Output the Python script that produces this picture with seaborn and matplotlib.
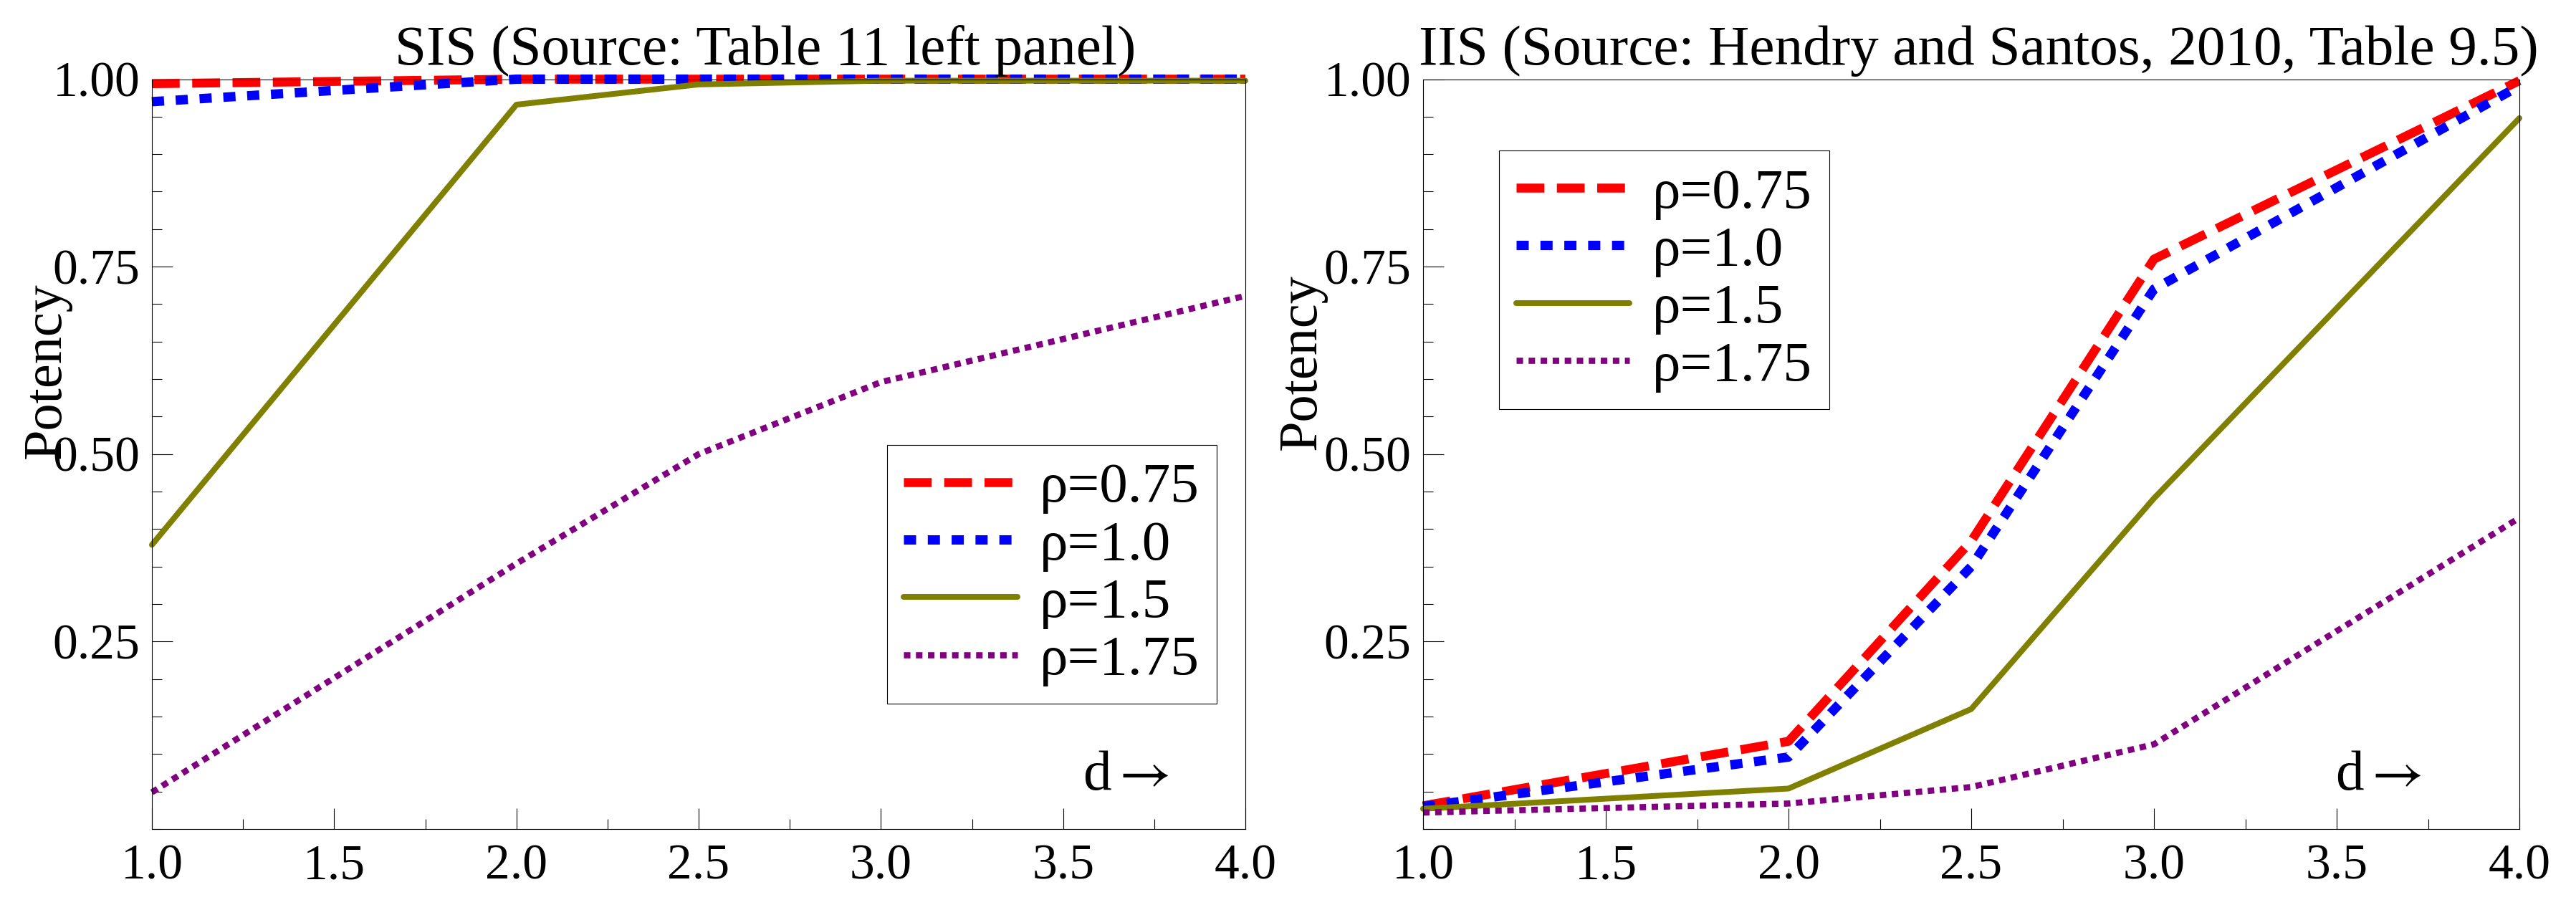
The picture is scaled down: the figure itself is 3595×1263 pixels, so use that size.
import numpy as np
import pandas as pd
import matplotlib
matplotlib.use("Agg")
import matplotlib.pyplot as plt
from matplotlib.ticker import MultipleLocator, FormatStrFormatter
import seaborn as sns

# ---------------- data ----------------
d_values = [1.0, 2.0, 2.5, 3.0, 4.0]

rho_labels = ["ρ=0.75", "ρ=1.0", "ρ=1.5", "ρ=1.75"]

sis_rho075 = [0.994, 1.000, 1.000, 1.000, 1.000]
sis_rho10 = [0.970, 1.000, 1.000, 1.000, 1.000]
sis_rho15 = [0.379, 0.966, 0.993, 0.998, 0.998]
sis_rho175 = [0.049, 0.354, 0.500, 0.596, 0.711]

iis_rho075 = [0.031, 0.117, 0.384, 0.760, 0.998]
iis_rho10 = [0.030, 0.096, 0.350, 0.720, 0.991]
iis_rho15 = [0.027, 0.054, 0.160, 0.441, 0.948]
iis_rho175 = [0.022, 0.034, 0.056, 0.113, 0.415]

titles = ["SIS (Source: Table 11 left panel)",
          "IIS (Source: Hendry and Santos, 2010, Table 9.5)"]
y_label = "Potency"
x_note = "d$\\rightarrow$"

# ---------------- styles ----------------
colors = ["#ff0000", "#0000ff", "#808000", "#800080"]
widths = [9.0, 9.4, 5.8, 6.2]
styles = [(0, (3.1, 1.4)), (0, (1.3, 1.25)), "-", (0, (1.05, 0.9))]

sns.set_theme(style="white")
plt.rcParams["font.family"] = ["Liberation Serif", "DejaVu Serif"]
plt.rcParams["mathtext.fontset"] = "stix"

W, H, DPI = 3595, 1263, 100
fig = plt.figure(figsize=(W / DPI, H / DPI), dpi=DPI)
fig.patch.set_facecolor("white")

ax_l = fig.add_axes([212 / W, 1 - 1157 / H, (1738 - 212) / W, (1157 - 110.5) / H])
ax_r = fig.add_axes([1986 / W, 1 - 1157 / H, (3516 - 1986) / W, (1157 - 110.5) / H])

panels = [
    (ax_l, [sis_rho075, sis_rho10, sis_rho15, sis_rho175]),
    (ax_r, [iis_rho075, iis_rho10, iis_rho15, iis_rho175]),
]

title_x = [0.561, 0.507]
note_x = [0.851, 0.832]
ylab_xy = [(-0.0734, 0.611), (-0.0876, 0.623)]
leg_cfg = [("lower right", (0.9738, 0.1671)), ("upper left", (0.0693, 0.9045))]

for i, (ax, series) in enumerate(panels):
    rows = []
    for lab, vals in zip(rho_labels, series):
        for xv, yv in zip(d_values, vals):
            rows.append({"d": xv, "potency": yv, "rho": lab})
    df = pd.DataFrame(rows)
    for j, lab in enumerate(rho_labels):
        sub = df[df["rho"] == lab]
        sns.lineplot(data=sub, x="d", y="potency", ax=ax, color=colors[j],
                     linewidth=widths[j], linestyle=styles[j], label=lab,
                     clip_on=False, estimator=None, sort=False)

    ax.set_xlim(1.0, 4.0)
    ax.set_ylim(0.0, 1.0)
    ax.xaxis.set_major_locator(MultipleLocator(0.5))
    ax.xaxis.set_minor_locator(MultipleLocator(0.25))
    ax.yaxis.set_major_locator(MultipleLocator(0.25))
    ax.yaxis.set_minor_locator(MultipleLocator(0.05))
    ax.xaxis.set_major_formatter(FormatStrFormatter("%.1f"))
    ax.yaxis.set_major_formatter(FormatStrFormatter("%.2f"))
    # the 0.00 label is not shown in the reference
    ax.set_yticks([0.25, 0.5, 0.75, 1.0])

    ax.tick_params(axis="both", which="both", direction="in", colors="black",
                   top=False, right=False, left=True, bottom=True, width=0.8)
    ax.tick_params(axis="both", which="major", length=21)
    ax.tick_params(axis="both", which="minor", length=10)
    ax.tick_params(axis="x", which="major", labelsize=50, pad=15)
    ax.tick_params(axis="y", which="major", labelsize=50, pad=12)

    for sp in ax.spines.values():
        sp.set_visible(True)
        sp.set_color("black")
        sp.set_linewidth(0.8)

    ax.set_xlabel("")
    ax.set_ylabel(y_label, fontsize=55, color="black")
    ax.yaxis.set_label_coords(*ylab_xy[i])
    ax.set_title(titles[i], fontsize=57, x=title_x[i], pad=15, color="black")
    ax.text(note_x[i], 0.0525, x_note, transform=ax.transAxes, fontsize=57,
            ha="left", va="baseline", color="black")

    loc, anchor = leg_cfg[i]
    leg = ax.legend(loc=loc, bbox_to_anchor=anchor, borderaxespad=0,
                    fontsize=57, handlelength=2.0, handletextpad=0.4,
                    labelspacing=0.1, borderpad=0.3, frameon=True,
                    fancybox=False, framealpha=1, edgecolor="black")
    leg.get_frame().set_linewidth(0.8)
    for t in leg.get_texts():
        t.set_color("black")

fig.savefig("out.png", dpi=DPI, facecolor="white")
